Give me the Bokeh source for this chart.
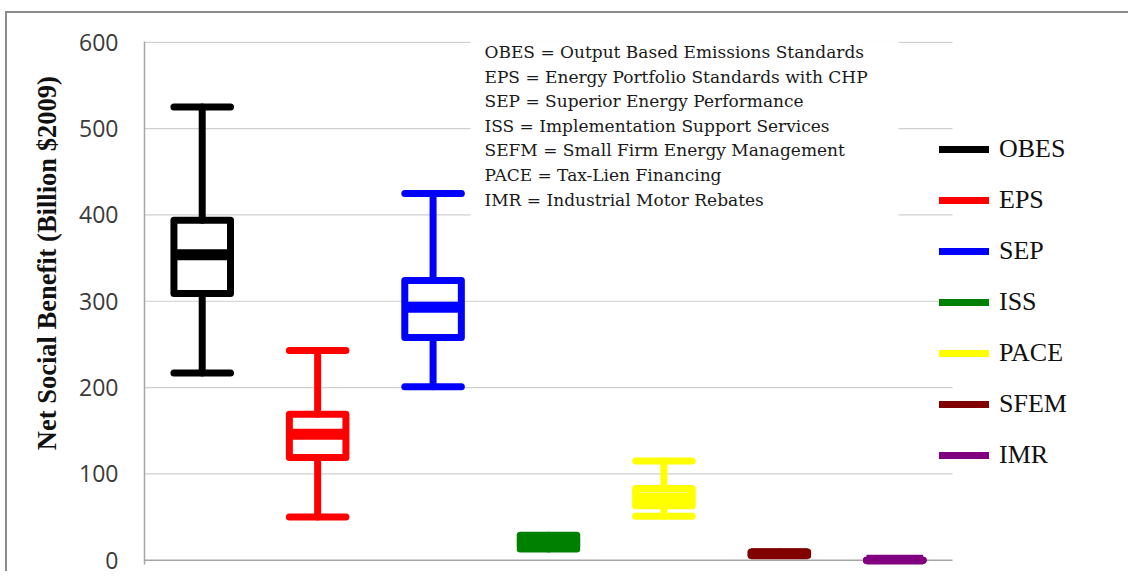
import math
from bokeh.plotting import figure
from bokeh.models import Range1d, FixedTicker, Legend, LegendItem
from bokeh.embed import file_html
from bokeh.resources import INLINE
from bokeh.core.properties import value

# ---------------- data ----------------
categories = ["OBES", "EPS", "SEP", "ISS", "PACE", "SFEM", "IMR"]
whisker_low = [217, 50, 201, 13, 51, 5.5, 0]
q1_values = [309, 119, 258, 16, 63, 6.5, 0]
median_values = [354, 146, 293, 21, 72, 7.5, 0]
q3_values = [394, 169, 324, 26, 83, 8.5, 0]
whisker_high = [525, 243, 425, 29, 115, 9.5, 0]
colors = ["#000000", "#ff0000", "#0000ff", "#008000", "#ffff00", "#800000", "#800080"]
y_ticks = [0, 100, 200, 300, 400, 500, 600]
y_label = "Net Social Benefit (Billion $2009)"
definitions = [
    "OBES = Output Based Emissions Standards",
    "EPS = Energy Portfolio Standards with CHP",
    "SEP = Superior Energy Performance",
    "ISS = Implementation Support Services",
    "SEFM = Small Firm Energy Management",
    "PACE = Tax-Lien Financing",
    "IMR = Industrial Motor Rebates",
]

# ---------------- layout ----------------
N = len(categories)
PX_PER_CAT = 808 / N           # plot-area width per category
FRAME_W, FRAME_H = 980, 523
Y0, Y1 = -5, 601
X0 = 0
X1 = FRAME_W / PX_PER_CAT       # frame extends right to hold the legend
FRAME_LEFT_PX, FRAME_TOP_PX = 144, 41  # picture pixels


def px_to_x(px):
    return X0 + (px - FRAME_LEFT_PX) / PX_PER_CAT


def py_to_y(py):
    return Y1 - (py - FRAME_TOP_PX) * (Y1 - Y0) / FRAME_H


p = figure(
    frame_width=FRAME_W, frame_height=FRAME_H,
    x_range=Range1d(X0, X1), y_range=Range1d(Y0, Y1),
    output_backend="svg", toolbar_location=None,
    min_border_left=137, min_border_top=28, min_border_bottom=7, min_border_right=4,
)
p.styles = {"border-top": "2px solid #8c8c8c", "border-left": "2px solid #8c8c8c",
            "margin-top": "11px", "margin-left": "5px"}
p.outline_line_color = None
p.background_fill_color = "white"
p.border_fill_color = "white"

p.xaxis.visible = False
p.xgrid.visible = False
p.ygrid.visible = False

yax = p.yaxis[0]
yax.ticker = FixedTicker(ticks=y_ticks)
yax.major_tick_out = 0
yax.major_tick_in = 0
yax.minor_tick_out = 0
yax.minor_tick_in = 0
yax.axis_line_color = "#a6a6a6"
yax.axis_line_width = 1.5
yax.major_label_standoff = 26
yax.major_label_text_font = "Open Sans"
yax.major_label_text_font_size = "23px"
yax.major_label_text_color = "#3a3a3a"
# the reference title sits above the plot-area centre: pad its start with no-break spaces
yax.axis_label = "\u00a0" * 12 + y_label
yax.axis_label_standoff = 14
yax.axis_label_text_font = "Liberation Serif"
yax.axis_label_text_font_style = "bold"
yax.axis_label_text_font_size = "26.5px"
yax.axis_label_text_color = "#111111"

# horizontal gridlines limited to the plot area (categories span)
grid_ticks = [t for t in y_ticks if t != 0]
p.segment(x0=[X0] * len(grid_ticks), x1=[N] * len(grid_ticks), y0=grid_ticks, y1=grid_ticks,
          line_color="#cfcfcf", line_width=1.2)
p.segment(x0=[X0], x1=[N], y0=[0], y1=[0], line_color="#a6a6a6", line_width=1.5)

# definitions text box (white background hides gridlines)
p.quad(left=[px_to_x(470)], right=[px_to_x(898)], bottom=[py_to_y(218)], top=[Y1 + 20],
       fill_color="white", line_color=None)
line_y = [py_to_y(51.5 + 24.6 * i) for i in range(len(definitions))]
p.text(x=[px_to_x(484)] * len(definitions), y=line_y, text=definitions,
       text_font=value("DejaVu Serif"), text_font_size="17px",
       text_baseline="middle", text_align="left", text_color="#1a1a1a")

# box plots
half = 0.245
items = []
for i, cat in enumerate(categories):
    xc = i + 0.5
    col = colors[i]
    lo, a, m, b, hi = whisker_low[i], q1_values[i], median_values[i], q3_values[i], whisker_high[i]
    whisk = p.segment(x0=[xc, xc], y0=[b, a], x1=[xc, xc], y1=[hi, lo],
                      line_color=col, line_width=7, line_cap="round")
    p.segment(x0=[xc - half, xc - half], y0=[hi, lo], x1=[xc + half, xc + half], y1=[hi, lo],
              line_color=col, line_width=7, line_cap="round")
    p.quad(left=[xc - half], right=[xc + half], bottom=[a], top=[b],
           fill_alpha=0, line_color=col, line_width=7, line_join="round")
    p.segment(x0=[xc - half], y0=[m], x1=[xc + half], y1=[m],
              line_color=col, line_width=11, line_cap="butt")
    items.append(LegendItem(label=value(cat), renderers=[whisk]))

legend = Legend(
    items=items, location=(795, 94), orientation="vertical",
    glyph_width=50, glyph_height=30, label_height=30, spacing=21,
    padding=0, margin=0, label_standoff=10,
    label_text_font="Liberation Serif", label_text_font_size="26px",
    label_text_color="#111111",
    background_fill_alpha=0, border_line_alpha=0,
)
p.add_layout(legend)

open("out.html", "w").write(file_html(p, INLINE))
